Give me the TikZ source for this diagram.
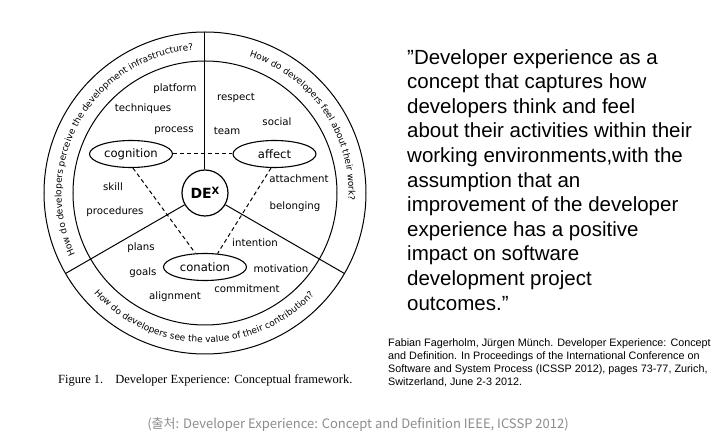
\documentclass[tikz,border=0pt]{standalone}
\usepackage{fontspec}
\usepackage{tikz}
\usetikzlibrary{calc, shapes.geometric, decorations.text}

\newfontfamily\dexfont{DejaVu Sans}
\newfontfamily\quotefont{Liberation Sans}
\newfontfamily\figfont{Liberation Serif}
\newfontfamily\krfont{Noto Sans CJK KR}
\definecolor{srcgray}{HTML}{8C8C8C}

\begin{document}
\begin{tikzpicture}[x=1pt, y=1pt,
		facet/.style = {draw, ellipse, line width=1.1pt, minimum width=83pt, minimum height=27pt, inner sep=0pt, font=\dexfont\fontsize{11.6}{12}\selectfont},
		item/.style = {inner sep=0pt, font=\dexfont\fontsize{10.2}{11}\selectfont},
		link/.style = {line width=1pt, dash pattern=on 4pt off 3pt},
		ring/.style = {decorate, decoration={text along path, text align=center, text={|\dexfont\fontsize{9}{9}\selectfont|#1}}}
	]
		\def\Ro{161};
		\def\Ri{132};
		\def\Rt{143.5};
		\def\Rb{149.5};
		
		\useasboundingbox (-205,-248) rectangle (513,193);
		
		\coordinate (O) at (0,0);
		
		\draw[line width=1pt] (O) circle [radius = \Ro];
		\draw[line width=1pt] (O) circle [radius = \Ri];
		
		\node[draw, circle, line width=1.2pt, minimum size=46pt, inner sep=0pt, font=\dexfont] (dex) at (O)
			{\fontsize{14}{14}\selectfont\bfseries DE\raisebox{3.5pt}{\fontsize{10}{10}\selectfont X}};
		
		\draw[line width=1pt] (dex.90) -- (90:\Ro);
		\draw[line width=1pt] (dex.210) -- (210:\Ro);
		\draw[line width=1pt] (dex.330) -- (330:\Ro);
		
		\node[facet] (cognition) at (-74,39) {cognition};
		\node[facet] (affect) at (69.5,39) {affect};
		\node[facet] (conation) at (0,-74) {conation};
		
		\begin{scope}[link]
			\draw (cognition) -- (affect);
			\draw (cognition.-82) -- (conation.125);
			\draw (affect.-104) -- (conation.47);
		\end{scope}
		
		\node[item] (platform) at (-30,104) {platform};
		\node[item] (techniques) at (-62,84) {techniques};
		\node[item] (process) at (-31,62) {process};
		\node[item] (skill) at (-92,6) {skill};
		\node[item] (procedures) at (-90,-19) {procedures};
		
		\node[item] (respect) at (31,95) {respect};
		\node[item] (social) at (72,71) {social};
		\node[item] (team) at (22,62) {team};
		\node[item] (attachment) at (94,14) {attachment};
		\node[item] (belonging) at (90,-14) {belonging};
		
		\node[item] (plans) at (-64,-55) {plans};
		\node[item] (goals) at (-62,-80) {goals};
		\node[item] (alignment) at (-30,-104) {alignment};
		\node[item] (intention) at (50,-50) {intention};
		\node[item] (motivation) at (76,-76) {motivation};
		\node[item] (commitment) at (42,-96) {commitment};
		
		\path[ring={How do developers perceive the development infrastructure?}]
			(208:\Rt) arc [start angle=208, end angle=92, radius=\Rt];
		\path[ring={How do developers feel about their work?}]
			(88:\Rt) arc [start angle=88, end angle=-19, radius=\Rt];
		\path[ring={How do developers see the value of their contribution?}]
			(212:\Rb) arc [start angle=212, end angle=327, radius=\Rb];
		
		\node[anchor=west, inner sep=0pt, font=\figfont\fontsize{12.5}{14}\selectfont] (figcap) at (-147,-187)
			{Figure 1.\hspace{12pt}Developer Experience: Conceptual framework.};
		
		\node[anchor=north west, inner sep=0pt, align=left, font=\quotefont\fontsize{20.5}{24.6}\selectfont] (quote) at (202,144)
			{”Developer experience as a\\
			concept that captures how\\
			developers think and feel\\
			about their activities within their\\
			working environments,with the\\
			assumption that an\\
			improvement of the developer\\
			experience has a positive\\
			impact on software\\
			development project\\
			outcomes.”};
		
		\node[anchor=north west, inner sep=0pt, align=left, font=\quotefont\fontsize{10.8}{13.3}\selectfont] (cite) at (183,-145)
			{Fabian Fagerholm, Jürgen Münch. Developer Experience: Concept\\
			and Definition. In Proceedings of the International Conference on\\
			Software and System Process (ICSSP 2012), pages 73-77, Zurich,\\
			Switzerland, June 2-3 2012.};
		
		\node[inner sep=0pt, text=srcgray, font=\krfont\fontsize{13}{15}\selectfont] (source) at (153,-232)
			{(출처: Developer Experience: Concept and Definition IEEE, ICSSP 2012)};
	\end{tikzpicture}
\end{document}
